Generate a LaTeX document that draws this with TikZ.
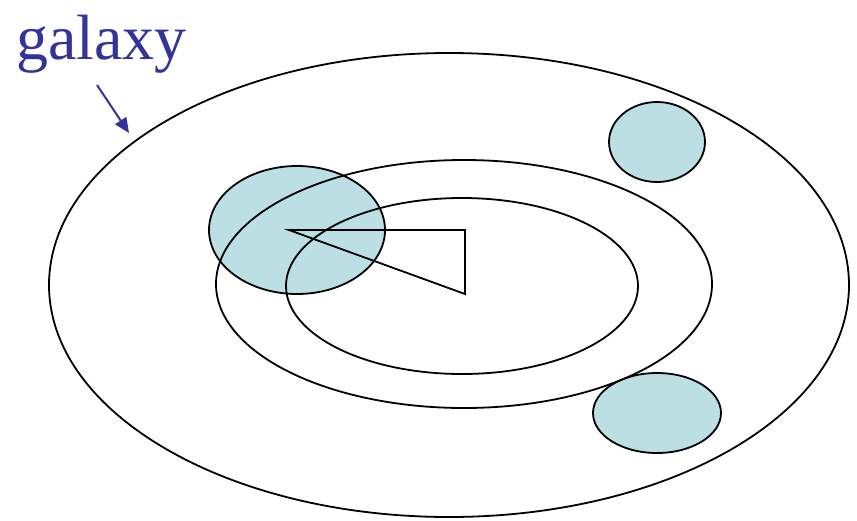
\documentclass[tikz,border=0pt]{standalone}
\usepackage{fontspec}
\setmainfont{Liberation Serif}
\usetikzlibrary{arrows.meta}
\definecolor{galblue}{HTML}{333399}
\definecolor{teal1}{HTML}{BBDFE3}
\tikzset{
  ring/.style={draw=black, line width=1.8pt},
  blob/.style={fill=teal1, draw=black, line width=1.8pt},
  lbl/.style={text=galblue, font=\fontsize{64}{64}\selectfont, inner sep=0pt},
  pointer/.style={draw=galblue, line width=2pt, -{Triangle[length=15pt,width=13pt]}}
}
\begin{document}
\begin{tikzpicture}[x=1pt,y=-1pt]
\useasboundingbox (0,0) rectangle (857,520);
% teal blobs
\path[blob] (297,230) ellipse [x radius=88, y radius=64];
\path[blob] (657,142) ellipse [x radius=48, y radius=40];
\path[blob] (657,413) ellipse [x radius=64, y radius=40];
% rings
\path[ring] (449,285) ellipse [x radius=400, y radius=232];
\path[ring] (464,284) ellipse [x radius=248, y radius=124];
\path[ring] (462,286) ellipse [x radius=176, y radius=88];
% triangle
\coordinate (t1) at (289,230);
\coordinate (t2) at (465,230);
\coordinate (t3) at (465,294);
\draw[ring, line join=miter] (t1) -- (t2) -- (t3) -- cycle;
% label
\node[lbl, anchor=base west] (lab) at (16,59) {galaxy};
\coordinate (a1) at (97,85);
\coordinate (a2) at (129,133);
\draw[pointer] (a1) -- (a2);
\end{tikzpicture}
\end{document}
